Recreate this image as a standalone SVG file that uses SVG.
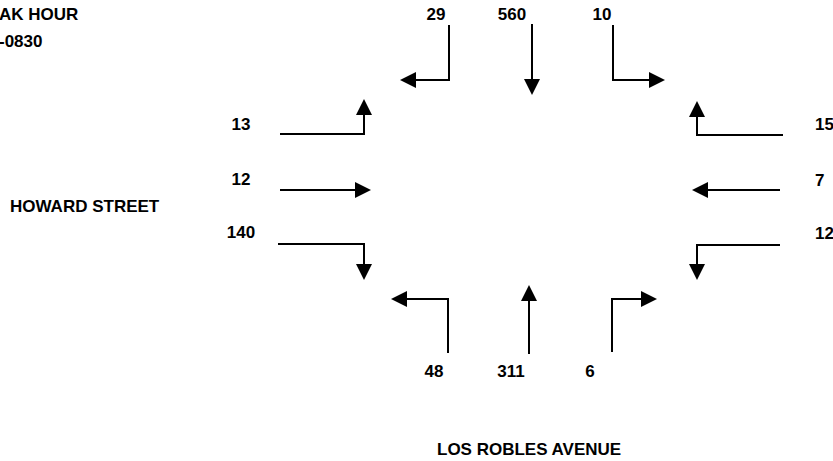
<svg xmlns="http://www.w3.org/2000/svg" width="833" height="461" viewBox="0 0 833 461">
<style>
text{font-family:"Liberation Sans",Arial,sans-serif;font-size:17px;font-weight:bold;fill:#000}
.m{text-anchor:middle}
.mv{fill:none;stroke:#000;stroke-width:2;marker-end:url(#ah)}
</style>
<defs>
<marker id="ah" viewBox="0 0 16 16" refX="0" refY="8" markerWidth="16" markerHeight="16" markerUnits="userSpaceOnUse" orient="auto">
<path d="M0,0 L16,8 L0,16 z" fill="#000"/>
</marker>
</defs>
<rect width="833" height="461" fill="#fff"/>
<g id="titles">
<text x="-1" y="20">AK HOUR</text>
<text x="-1" y="47">-0830</text>
<text x="10" y="212">HOWARD STREET</text>
<text x="437" y="455">LOS ROBLES AVENUE</text>
</g>
<g id="labels">
<text class="m" x="436" y="20">29</text>
<text class="m" x="512" y="20">560</text>
<text class="m" x="602" y="20">10</text>
<text class="m" x="241" y="130">13</text>
<text class="m" x="241" y="185">12</text>
<text class="m" x="241" y="238">140</text>
<text x="815" y="130">15</text>
<text x="815" y="186">7</text>
<text x="815" y="239">12</text>
<text class="m" x="434" y="377">48</text>
<text class="m" x="511" y="377">311</text>
<text class="m" x="590" y="377">6</text>
</g>
<g id="connectors">
<path id="sb-right" class="mv" d="M449,25 V80 H416"/>
<path id="sb-thru" class="mv" d="M532,24 V79"/>
<path id="sb-left" class="mv" d="M613,25 V80 H649"/>
<path id="eb-left" class="mv" d="M280,134 H364 V115"/>
<path id="eb-thru" class="mv" d="M280,190 H355"/>
<path id="eb-right" class="mv" d="M278,244 H364 V264"/>
<path id="wb-right" class="mv" d="M783,135 H697 V117"/>
<path id="wb-thru" class="mv" d="M780,190 H708"/>
<path id="wb-left" class="mv" d="M780,245 H697 V264"/>
<path id="nb-left" class="mv" d="M448,353 V299 H407"/>
<path id="nb-thru" class="mv" d="M529,354 V301"/>
<path id="nb-right" class="mv" d="M612,352 V299 H641"/>
</g>
</svg>
